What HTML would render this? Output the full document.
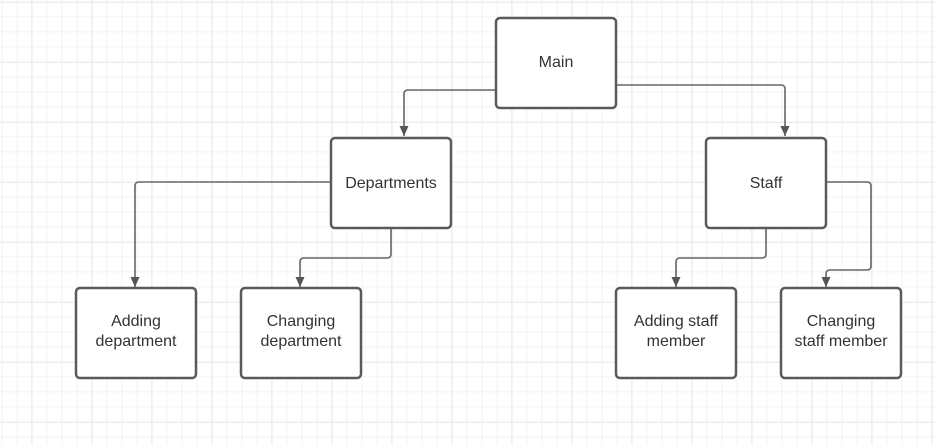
<!DOCTYPE html>
<html><head><style>
html,body{margin:0;padding:0;background:#fff;}
svg{display:block;}
text{font-family:"Liberation Sans",sans-serif;font-size:16px;fill:#333;}
</style></head><body>
<svg width="935" height="445" xmlns="http://www.w3.org/2000/svg">
<defs>
<pattern id="g" x="1.7" y="1.7" width="15" height="15" patternUnits="userSpaceOnUse">
<path d="M0 0H15M0 0V15" stroke="#e6e6e6" stroke-width="1" fill="none"/>
</pattern>
<pattern id="G" x="31.7" y="2" width="60" height="60" patternUnits="userSpaceOnUse">
<path d="M0 0H60M0 0V60" stroke="#d9d9d9" stroke-width="1" fill="none"/>
</pattern>
<marker id="a" markerWidth="12" markerHeight="12" refX="10" refY="5" orient="auto" markerUnits="userSpaceOnUse">
<path d="M0 0.5 L10 5 L0 9.5 Z" fill="#555"/>
</marker>
</defs>
<rect width="935" height="445" fill="url(#g)"/>
<rect width="935" height="445" fill="url(#G)"/>
<g fill="none" stroke="#666" stroke-width="1.6" stroke-linejoin="round">
<path d="M495 90 H408 Q404 90 404 94 V136" marker-end="url(#a)"/>
<path d="M616 85 H781 Q785 85 785 89 V136" marker-end="url(#a)"/>
<path d="M330 182 H139 Q135 182 135 186 V287" marker-end="url(#a)"/>
<path d="M391 228 V254 Q391 258 387 258 H304 Q300 258 300 262 V287" marker-end="url(#a)"/>
<path d="M766 228 V254 Q766 258 762 258 H680 Q676 258 676 262 V287" marker-end="url(#a)"/>
<path d="M826 182 H867 Q871 182 871 186 V266 Q871 270 867 270 H830 Q826 270 826 274 V287" marker-end="url(#a)"/>
</g>
<g fill="#fff" stroke="#5a5a5a" stroke-width="2.5">
<rect x="496" y="18" width="120" height="90" rx="4"/>
<rect x="331" y="138" width="120" height="90" rx="4"/>
<rect x="706" y="138" width="120" height="90" rx="4"/>
<rect x="76" y="288" width="120" height="90" rx="4"/>
<rect x="241" y="288" width="120" height="90" rx="4"/>
<rect x="616" y="288" width="120" height="90" rx="4"/>
<rect x="781" y="288" width="120" height="90" rx="4"/>
</g>
<g text-anchor="middle">
<text x="556" y="67">Main</text>
<text x="391" y="188">Departments</text>
<text x="766" y="188">Staff</text>
<text x="136" y="326">Adding</text>
<text x="136" y="346">department</text>
<text x="301" y="326">Changing</text>
<text x="301" y="346">department</text>
<text x="676" y="326">Adding staff</text>
<text x="676" y="346">member</text>
<text x="841" y="326">Changing</text>
<text x="841" y="346">staff member</text>
</g>
</svg>
</body></html>
